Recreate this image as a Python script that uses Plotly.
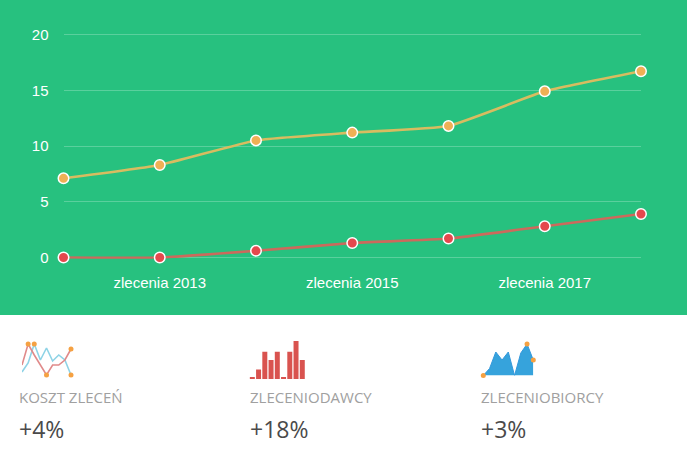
import plotly.graph_objects as go

years = ["zlecenia 2012","zlecenia 2013","zlecenia 2014","zlecenia 2015","zlecenia 2016","zlecenia 2017","zlecenia 2018"]
shown_years = ["zlecenia 2013","zlecenia 2015","zlecenia 2017"]
series_yellow = [7.1,8.3,10.5,11.2,11.8,14.9,16.7]
series_red = [0,0,0.6,1.3,1.7,2.8,3.9]
y_ticks = [0,5,10,15,20]

idx = list(range(9))
spark_red = [15,36,25,15,5,15,15,20,31]
spark_blue = [8,17,36,20,32,19,25,20,5]
spark_bars = [1,7,20,14,20,1,20,28,14]
spark_area = [0,7,23.5,15.5,23.5,0,22.5,31.5,15.5]
captions = ["KOSZT ZLECEŃ","ZLECENIODAWCY","ZLECENIOBIORCY"]
changes = ["+4%","+18%","+3%"]

W,H = 687,458
PX = 223/20  # pixels per y unit on the main chart
PAD = 0.12   # y range padding so the 0 and 20 gridlines are kept
def dx(a,b): return [a/W,b/W]
def dy(top,bot): return [1-bot/H,1-top/H]
fig = go.Figure()

for vals,line,mark in [(series_yellow,"#d8bc60","#efb055"),(series_red,"#cc6a5c","#e5484d")]:
    fig.add_trace(go.Scatter(x=years,y=vals,mode="lines+markers",
        line=dict(color=line,width=2.6,shape="spline",smoothing=0.4),
        marker=dict(size=10.5,color=mark,line=dict(color="white",width=1.5)),
        xaxis="x",yaxis="y",showlegend=False,cliponaxis=False))

fig.add_trace(go.Scatter(x=idx,y=spark_blue,mode="lines",line=dict(color="#8ed3e6",width=1.6),xaxis="x2",yaxis="y2",showlegend=False))
fig.add_trace(go.Scatter(x=idx,y=spark_red,mode="lines",line=dict(color="#e08a8a",width=1.6),xaxis="x2",yaxis="y2",showlegend=False))
hl_idx = [1,4,8]
fig.add_trace(go.Scatter(x=hl_idx,y=[spark_red[i] for i in hl_idx],mode="markers",marker=dict(size=5,color="#f5a142"),xaxis="x2",yaxis="y2",showlegend=False,cliponaxis=False))
hl_blue = [2,8]
fig.add_trace(go.Scatter(x=hl_blue,y=[spark_blue[i] for i in hl_blue],mode="markers",marker=dict(size=5,color="#f5a142"),xaxis="x2",yaxis="y2",showlegend=False,cliponaxis=False))

fig.add_trace(go.Bar(x=idx,y=spark_bars,marker=dict(color="#d9534f",line=dict(width=0)),width=0.8,xaxis="x3",yaxis="y3",showlegend=False))

fig.add_trace(go.Scatter(x=idx,y=spark_area,mode="lines",fill="tozeroy",line=dict(color="#3498db",width=1),fillcolor="#36a3dc",xaxis="x4",yaxis="y4",showlegend=False))
hl3=[0,7,8]
fig.add_trace(go.Scatter(x=hl3,y=[spark_area[i] for i in hl3],mode="markers",marker=dict(size=5,color="#f5a142"),xaxis="x4",yaxis="y4",showlegend=False,cliponaxis=False))

hidden = dict(visible=False,fixedrange=True)
fig.update_layout(
    width=W,height=H,margin=dict(l=0,r=0,t=0,b=0,pad=0,autoexpand=False),autosize=False,
    paper_bgcolor="white",plot_bgcolor="rgba(0,0,0,0)",
    font=dict(family="Liberation Sans, Arial, sans-serif"),
    xaxis=dict(domain=dx(63.5,641),type="category",categoryorder="array",categoryarray=years,range=[0,6],
        tickmode="array",tickvals=shown_years,ticktext=shown_years,showgrid=False,zeroline=False,showline=False,ticks="",
        anchor="y",tickfont=dict(size=15,color="white"),ticklabelstandoff=13),
    yaxis=dict(domain=dy(34.5-PAD*PX,257.5+PAD*PX),range=[-PAD,20+PAD],tickvals=y_ticks,showgrid=True,gridcolor="rgba(255,255,255,0.24)",gridwidth=1,
        zeroline=False,showline=False,ticks="",tickfont=dict(size=15,color="white"),ticklabelstandoff=14,anchor="x"),
    xaxis2=dict(domain=dx(22,71),range=[0,8],anchor="y2",**hidden),
    yaxis2=dict(domain=dy(340,380),range=[0,40],anchor="x2",**hidden),
    xaxis3=dict(domain=dx(249.2,305.4),range=[-0.5,8.5],anchor="y3",**hidden),
    yaxis3=dict(domain=dy(341,379),range=[0,28],anchor="x3",**hidden),
    xaxis4=dict(domain=dx(483.3,533.3),range=[0,8],anchor="y4",**hidden),
    yaxis4=dict(domain=dy(344,375.5),range=[0,31.5],anchor="x4",**hidden),
    shapes=[dict(type="rect",xref="paper",yref="paper",x0=0,x1=1,y0=1-315/H,y1=1,fillcolor="#27c17f",line=dict(width=0),layer="below")],
)
for i,x in enumerate([17.5,248.5,479.5]):
    fig.add_annotation(text=captions[i],xref="paper",yref="paper",x=x/W,y=1-396.5/H,xanchor="left",yanchor="middle",showarrow=False,
        font=dict(family="Open Sans",size=15,color="#a0a0a0"),borderpad=0)
    fig.add_annotation(text=changes[i],xref="paper",yref="paper",x=x/W,y=1-429/H,xanchor="left",yanchor="middle",showarrow=False,
        font=dict(family="Open Sans",size=23,color="#4a4a4a"),borderpad=0)

fig.write_html("out.html",config=dict(displayModeBar=False),
    post_script="document.body.style.margin='0';document.documentElement.style.overflow='hidden';")
